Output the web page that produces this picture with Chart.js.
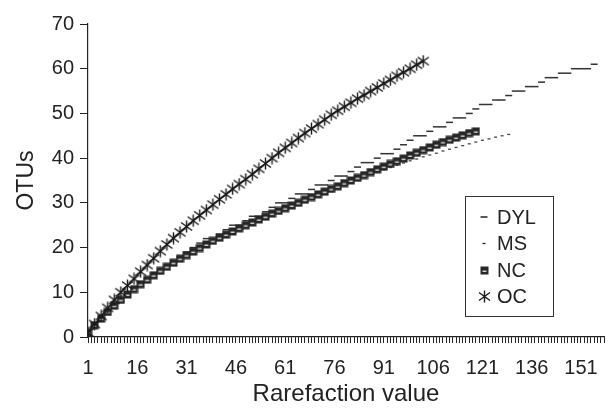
<!DOCTYPE html>
<html>
<head>
<meta charset="utf-8">
<script src="https://cdn.jsdelivr.net/npm/chart.js@4/dist/chart.umd.min.js"></script>
<style>
  html, body { margin: 0; padding: 0; background: #fff; }
  #wrap { width: 615px; height: 411px; }
</style>
</head>
<body>
<div id="wrap"><canvas id="chart" width="615" height="411"></canvas></div>
<script>
// rarefaction values where the curves are sampled
const rarefaction = [1, 3, 5, 7, 9, 11, 13, 15, 17, 19, 21, 23, 25, 27, 29, 31, 33, 35, 37, 39,
  41, 43, 45, 47, 49, 51, 53, 55, 57, 59, 61, 63, 65, 67, 69, 71, 73, 75, 77, 79,
  81, 83, 85, 87, 89, 91, 93, 95, 97, 99, 101, 103, 105, 107, 109, 111, 113, 115, 117, 119,
  121, 123, 125, 127, 129, 131, 133, 135, 137, 139, 141, 143, 145, 147, 149, 151, 153, 155];

const xTickLabels = [1, 16, 31, 46, 61, 76, 91, 106, 121, 136, 151];
const yTickLabels = [0, 10, 20, 30, 40, 50, 60, 70];
const seriesNames = ['DYL', 'MS', 'NC', 'OC'];

const dyl = [1, 3, 4, 6, 7, 8, 10, 11, 12, 13, 14, 15, 16, 17, 18, 19, 20, 21, 22, 22,
  23, 24, 25, 25, 26, 27, 27, 28, 29, 30, 30, 31, 32, 32, 33, 34, 34, 35, 36, 36,
  37, 38, 39, 39, 40, 41, 41, 42, 43, 44, 45, 45, 46, 47, 47, 48, 49, 49, 50, 51,
  52, 52, 53, 53, 54, 55, 55, 56, 56, 57, 58, 58, 59, 59, 60, 60, 60, 61];

const ms = [1.0, 2.6, 4.1, 5.6, 7.0, 8.3, 9.5, 10.7, 11.8, 12.8, 13.8, 14.8, 15.7, 16.6, 17.5, 18.3, 19.1, 19.9, 20.7, 21.4,
  22.1, 22.8, 23.5, 24.2, 24.9, 25.5, 26.2, 26.8, 27.4, 28.0, 28.7, 29.3, 29.9, 30.5, 31.1, 31.7, 32.3, 32.9, 33.4, 34.0,
  34.5, 35.1, 35.7, 36.3, 36.9, 37.4, 37.9, 38.4, 38.9, 39.4, 39.8, 40.3, 40.7, 41.1, 41.6, 42.0, 42.4, 42.8, 43.2, 43.6,
  44.0, 44.3, 44.7, 45.0, 45.3];

const nc = [1.0, 2.6, 4.1, 5.6, 7.0, 8.3, 9.5, 10.7, 11.8, 12.8, 13.8, 14.8, 15.7, 16.6, 17.5, 18.3, 19.1, 19.9, 20.7, 21.5,
  22.2, 22.9, 23.6, 24.3, 25.0, 25.6, 26.3, 26.9, 27.6, 28.2, 28.8, 29.4, 30.0, 30.7, 31.3, 31.9, 32.5, 33.1, 33.7, 34.4,
  35.0, 35.6, 36.2, 36.9, 37.5, 38.1, 38.7, 39.3, 39.9, 40.6, 41.2, 41.8, 42.4, 43.0, 43.6, 44.1, 44.6, 45.1, 45.6, 46.0];

const oc = [1.0, 2.9, 4.7, 6.5, 8.3, 10.0, 11.5, 13.0, 14.6, 16.1, 17.6, 19.2, 20.7, 22.1, 23.4, 24.7, 26.0, 27.2, 28.4, 29.6,
  30.8, 31.9, 33.1, 34.2, 35.3, 36.4, 37.6, 38.8, 40.0, 41.2, 42.3, 43.4, 44.5, 45.6, 46.6, 47.6, 48.6, 49.7, 50.6, 51.5,
  52.4, 53.3, 54.1, 55.0, 55.8, 56.7, 57.5, 58.4, 59.2, 60.0, 60.9, 61.7];

const INK = '#222';
const FONT = "'Liberation Sans', Arial, sans-serif";

function pts(vals) {
  return vals.map((v, i) => ({ x: rarefaction[i], y: v }));
}

// marker images: dark square with light bar (NC), six-armed asterisk (OC)
const ncMark = document.createElement('canvas');
ncMark.width = 9; ncMark.height = 9;
(() => {
  const c = ncMark.getContext('2d');
  c.fillStyle = '#262626'; c.fillRect(0.5, 0.5, 8, 8);
  c.fillStyle = '#cfcfcf'; c.fillRect(2.5, 4.5, 4, 1.5);
})();

const ocMark = document.createElement('canvas');
ocMark.width = 13; ocMark.height = 13;
(() => {
  const c = ocMark.getContext('2d');
  c.strokeStyle = '#1a1a1a'; c.lineWidth = 1.4;
  c.beginPath();
  c.moveTo(6.5, 0.5); c.lineTo(6.5, 12.5);
  c.moveTo(1, 2.5); c.lineTo(12, 10.5);
  c.moveTo(12, 2.5); c.lineTo(1, 10.5);
  c.stroke();
})();

const legendBox = {
  id: 'legendBox',
  afterDraw(chart) {
    const ctx = chart.ctx;
    const a = chart.chartArea;
    const x0 = a.right - 139, y0 = a.top + 172, w = 88, h = 120;
    ctx.save();
    ctx.fillStyle = '#fff';
    ctx.fillRect(x0, y0, w, h);
    ctx.strokeStyle = '#333'; ctx.lineWidth = 1;
    ctx.strokeRect(x0 + 0.5, y0 + 0.5, w, h);
    ctx.font = '20px ' + FONT;
    ctx.textBaseline = 'middle';
    chart.data.datasets.forEach((ds, i) => {
      const y = y0 + 21 + i * 26.5;
      const mx = x0 + 19;
      ctx.strokeStyle = INK;
      if (ds.pointStyle === 'line') {
        const r = ds.pointRadius;
        ctx.lineWidth = ds.pointBorderWidth;
        ctx.beginPath(); ctx.moveTo(mx - r, y); ctx.lineTo(mx + r, y); ctx.stroke();
      } else {
        const img = ds.pointStyle;
        ctx.drawImage(img, Math.round(mx - img.width / 2), Math.round(y - img.height / 2));
      }
      ctx.fillStyle = INK;
      ctx.fillText(ds.label, x0 + 32, y + 1);
    });
    ctx.restore();
  }
};

new Chart(document.getElementById('chart'), {
  type: 'scatter',
  data: {
    datasets: [
      { label: seriesNames[0], data: pts(dyl), showLine: false, pointStyle: 'line', pointRadius: 3.5,
        pointBorderWidth: 1.5, borderColor: '#333', backgroundColor: '#333', order: 2 },
      { label: seriesNames[1], data: pts(ms), showLine: false, pointStyle: 'line', pointRadius: 1.5,
        pointBorderWidth: 1.3, borderColor: '#444', backgroundColor: '#444', order: 3 },
      { label: seriesNames[2], data: pts(nc), showLine: true, borderWidth: 1, pointStyle: ncMark, pointRadius: 4.5,
        pointBorderWidth: 0, borderColor: '#333', backgroundColor: '#333', order: 1 },
      { label: seriesNames[3], data: pts(oc), showLine: true, borderWidth: 1.3, pointStyle: ocMark, pointRadius: 6.5,
        pointBorderWidth: 0, borderColor: INK, backgroundColor: INK, order: 0 },
    ]
  },
  options: {
    responsive: false,
    animation: false,
    layout: { padding: { top: 24, right: 11, left: 0, bottom: 0 } },
    plugins: { legend: { display: false }, tooltip: { enabled: false } },
    scales: {
      x: {
        type: 'linear', min: 1, max: 158,
        afterFit: s => { s.height = 74; s.paddingRight = 0; s.paddingLeft = 0; },
        border: { display: true, color: INK, width: 1.2 },
        grid: { drawOnChartArea: false, drawTicks: true, tickLength: 6, color: INK, lineWidth: 1 },
        ticks: {
          stepSize: 1, autoSkip: false, maxRotation: 0, includeBounds: false, maxTicksLimit: 1000,
          color: INK, padding: 13, font: { family: FONT, size: 20 },
          callback: v => xTickLabels.includes(v) ? String(v) : ''
        },
        title: { display: true, text: 'Rarefaction value', color: INK, font: { family: FONT, size: 24 },
          padding: { top: 0, bottom: 2 } }
      },
      y: {
        min: 0, max: 70,
        afterFit: s => { s.width = 88; },
        border: { display: true, color: INK, width: 1.2 },
        grid: { drawOnChartArea: false, drawTicks: true, tickLength: 8, color: INK, lineWidth: 1 },
        afterBuildTicks: s => { s.ticks = yTickLabels.map(v => ({ value: v })); },
        ticks: { color: INK, padding: 6, font: { family: FONT, size: 20 } },
        title: { display: true, text: 'OTUs', color: INK, font: { family: FONT, size: 23 },
          padding: { top: 13, bottom: 0 } }
      }
    }
  },
  plugins: [legendBox]
});
</script>
</body>
</html>
